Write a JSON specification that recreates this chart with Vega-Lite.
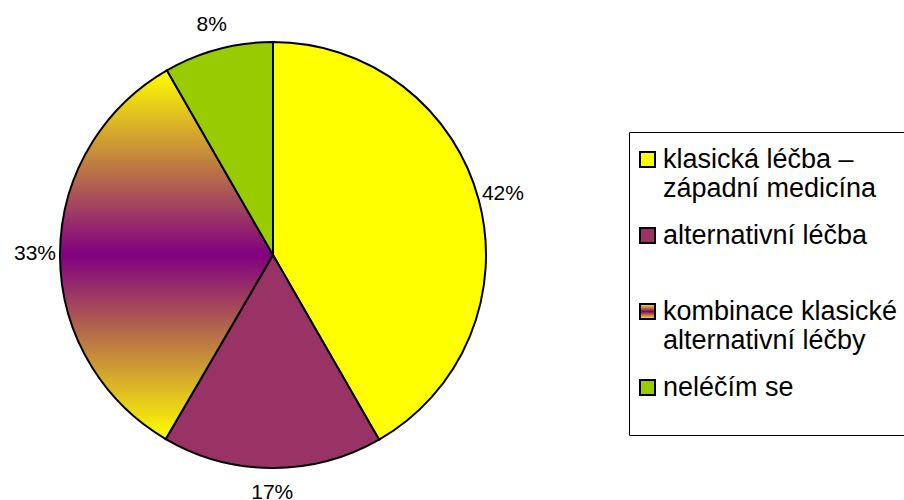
{
  "$schema": "https://vega.github.io/schema/vega-lite/v6.json",
  "width": 546,
  "height": 510,
  "autosize": {"type": "none"},
  "padding": {"left": 0, "top": 0, "right": 358, "bottom": 0},
  "background": "white",
  "config": {"view": {"stroke": null}},
  "data": {
    "values": [
      {"kategorie": "klasická léčba – západní medicína", "podil": 41.7, "popisek": "42%", "n": 1},
      {"kategorie": "alternativní léčba", "podil": 16.7, "popisek": "17%", "n": 2},
      {"kategorie": "kombinace klasické i alternativní léčby", "podil": 33.3, "popisek": "33%", "n": 3},
      {"kategorie": "neléčím se", "podil": 8.3, "popisek": "8%", "n": 4}
    ]
  },
  "encoding": {
    "theta": {"field": "podil", "type": "quantitative", "stack": true},
    "order": {"field": "n", "type": "quantitative"}
  },
  "layer": [
    {
      "mark": {"type": "arc", "radius": 213, "stroke": "black", "strokeWidth": 2},
      "encoding": {
        "color": {
          "field": "kategorie",
          "type": "nominal",
          "sort": null,
          "scale": {
            "domain": ["klasická léčba – západní medicína", "alternativní léčba", "kombinace klasické i alternativní léčby", "neléčím se"],
            "range": [
              "#ffff00",
              "#993366",
              {"expr": "{gradient: 'linear', x1: 0, y1: 0, x2: 0, y2: 1, stops: [{offset: 0, color: '#ffff00'}, {offset: 0.5, color: '#800080'}, {offset: 1, color: '#ffff00'}]}"},
              "#99cc00"
            ]
          },
          "legend": {
            "orient": "none",
            "direction": "vertical",
            "legendX": 629,
            "legendY": 132,
            "title": " ",
            "titleFontSize": 6,
            "titlePadding": 3,
            "padding": 5,
            "strokeColor": "#000000",
            "fillColor": "white",
            "symbolType": "square",
            "symbolSize": 225,
            "symbolStrokeColor": "black",
            "symbolStrokeWidth": 2,
            "labelFont": "Liberation Sans",
            "labelFontSize": 27,
            "labelColor": "black",
            "labelLimit": 0,
            "labelOffset": 2,
            "labelBaseline": "middle",
            "rowPadding": 19,
            "labelExpr": "datum.label == 'klasická léčba – západní medicína' ? ['klasická léčba –', 'západní medicína'] : datum.label == 'kombinace klasické i alternativní léčby' ? ['kombinace klasické i', 'alternativní léčby'] : [datum.label, '']"
          }
        }
      }
    },
    {
      "mark": {"type": "text", "radius": 238, "fontSize": 21, "font": "Liberation Sans", "color": "black"},
      "encoding": {"text": {"field": "popisek", "type": "nominal"}}
    }
  ]
}
